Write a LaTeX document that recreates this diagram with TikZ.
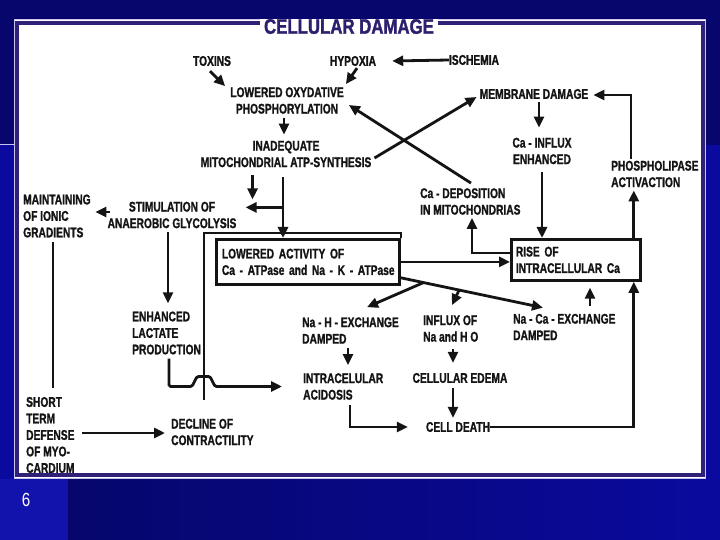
\documentclass[tikz,border=0pt]{standalone}
\usepackage{fontspec}
\usetikzlibrary{arrows.meta,calc}
\newfontfamily\diagfont{Liberation Sans Bold}[FakeStretch=0.73,FakeBold=1.2]
\newfontfamily\titlefont{Liberation Sans Bold}[FakeStretch=0.8,FakeBold=1.5]
\newfontfamily\pgfont{Liberation Sans}[FakeStretch=0.8]
\definecolor{bgblue}{RGB}{10,10,158}
\definecolor{bgdark}{RGB}{6,6,108}
\definecolor{stripblue}{RGB}{18,18,172}
\definecolor{panelpurple}{RGB}{48,32,120}
\definecolor{titlecol}{RGB}{45,30,110}
\definecolor{txt}{RGB}{20,20,20}
\definecolor{lightline}{RGB}{200,196,236}
\begin{document}
\begin{tikzpicture}[x=1pt,y=-1pt,
  lbl/.style={font=\diagfont\fontsize{14}{16.5}\selectfont,inner sep=0pt,text=txt},
  arr/.style={line width=2.8pt,draw=txt,-{Triangle[length=11pt,width=10pt]}},
  ln/.style={line width=2.3pt,draw=txt},
  boxnode/.style={lbl,draw=txt,line width=2.8pt,align=left,inner ysep=0pt}
]
\useasboundingbox (0,0) rectangle (720,540);
% background
\fill[bgblue] (0,0) rectangle (720,540);
\fill[bgdark] (0,0) rectangle (720,145);
\shade[left color=bgdark,right color=bgblue] (68,479) rectangle (720,540);
\fill[stripblue] (0,479) rectangle (68,540);
\draw[lightline,line width=1pt] (0,145) -- (14,145);
% panel
\fill[white] (14,19) rectangle (706,479);
\draw[lightline,line width=1pt] (14,19.5) rectangle (705.5,478.5);
\draw[panelpurple,line width=4pt] (16.5,23.5) rectangle (702.5,474.5);
\node[font=\titlefont\fontsize{21}{21}\selectfont,text=titlecol,fill=white,inner xsep=4pt,inner ysep=0pt] (title) at (349,26.5) {CELLULAR DAMAGE};
\node[font=\pgfont\fontsize{19}{19}\selectfont,text=white,inner sep=0pt] (pg) at (26,500) {6};

% nodes
\node[lbl] (toxins) at (212,61) {TOXINS};
\node[lbl] (hypoxia) at (353,61) {HYPOXIA};
\node[lbl] (ischemia) at (474,60) {ISCHEMIA};
\node[lbl,align=center] (lowox) at (287,100.5) {LOWERED OXYDATIVE\\PHOSPHORYLATION};
\node[lbl,align=center] (inadequate) at (286,154) {INADEQUATE\\MITOCHONDRIAL ATP-SYNTHESIS};
\node[lbl] (membrane) at (534,94) {MEMBRANE DAMAGE};
\node[lbl,align=center] (cainflux) at (542,151) {Ca - INFLUX\\ENHANCED};
\node[lbl,align=left,anchor=west] (phospho) at (611,174) {PHOSPHOLIPASE\\ACTIVACTION};
\node[lbl,align=left,anchor=west] (cadep) at (420,201.5) {Ca - DEPOSITION\\IN MITOCHONDRIAS};
\node[lbl,align=left,anchor=west] (maintain) at (23,216) {MAINTAINING\\OF IONIC\\GRADIENTS};
\node[lbl,align=center] (stim) at (172,215) {STIMULATION OF\\ANAEROBIC GLYCOLYSIS};
\node[boxnode,text width=172pt,inner xsep=5.5pt,minimum height=45pt,anchor=north west] (lowact) at (215,238) {\mbox{LOWERED ACTIVITY OF}\\\mbox{Ca - ATPase and Na - K - ATPase}};
\node[boxnode,text width=120pt,inner xsep=4.5pt,minimum height=41pt,anchor=north west] (rise) at (510,238) {\mbox{RISE OF}\\\mbox{INTRACELLULAR Ca}};
\node[lbl,align=left,anchor=west] (lactate) at (132,333) {ENHANCED\\LACTATE\\PRODUCTION};
\node[lbl,align=left,anchor=west] (nah) at (302,330.5) {Na - H - EXCHANGE\\DAMPED};
\node[lbl,align=left,anchor=west] (influx) at (423,328.5) {INFLUX OF\\Na and H O};
\node[lbl,align=left,anchor=west] (naca) at (513,327) {Na - Ca - EXCHANGE\\DAMPED};
\node[lbl,align=left,anchor=west] (acid) at (303,386.5) {INTRACELULAR\\ACIDOSIS};
\node[lbl] (edema) at (460,378) {CELLULAR EDEMA};
\node[lbl] (death) at (458,427) {CELL DEATH};
\node[lbl,align=left,anchor=west] (short) at (26,435) {SHORT\\TERM\\DEFENSE\\OF MYO-\\CARDIUM};
\node[lbl,align=left,anchor=west] (decline) at (171,432) {DECLINE OF\\CONTRACTILITY};

% helper coordinates
\coordinate (m0) at ([shift={(5,3)}]membrane.south);
\coordinate (m1) at ([shift={(0,-10)}]cainflux.north);
\coordinate (c0) at ([shift={(0,8)}]cainflux.south);
\coordinate (r0) at ([shift={(-8,0)}]rise.north east);
\coordinate (r1) at ([shift={(0,3)}]phospho.south west);
\coordinate (d1) at ([shift={(0,-8)}]lowact.south east);
\coordinate (d2) at ([shift={(30,-6)}]naca.north west);
\coordinate (n0) at ([shift={(46,4)}]nah.south west);
\coordinate (n1) at ([shift={(0,-8)}]acid.north west);
\coordinate (i0) at ([shift={(30,7)}]influx.south west);
\coordinate (i1) at ([shift={(0,-10)}]edema.north);
\coordinate (e0) at ([shift={(-7,5)}]edema.south);
\coordinate (e1) at ([shift={(0,-4)}]death.north);
\coordinate (v0) at ([shift={(-3,10)}]inadequate.south);
\coordinate (j1) at ([shift={(0,30)}]v0);
\coordinate (s0) at ([shift={(-4,4)}]stim.south);
\coordinate (s1) at ([shift={(0,-8)}]lactate.north west);
\coordinate (l0) at ([shift={(37,4)}]lactate.south west);
\coordinate (g0) at ([shift={(30,4.5)}]maintain.south west);
\coordinate (g1) at ([shift={(0,-9)}]short.north west);

% connectors
\draw[arr] (ischemia.west) -- ([shift={(16,0)}]hypoxia.east);
\draw[arr] ([shift={(-2,5)}]toxins.south) -- ([shift={(-5,-1)}]lowox.north west);
\draw[arr] ([shift={(4,2)}]hypoxia.south) -- ([shift={(2,-3)}]lowox.north east);
\draw[arr] ([shift={(-3,4)}]lowox.south) -- ([shift={(-2,-6)}]inadequate.north);
\draw[arr] ([shift={(3,4)}]inadequate.east) -- ([shift={(-3,3)}]membrane.west);
\draw[arr] ([shift={(51,-5)}]cadep.north west) -- ([shift={(5,4.5)}]lowox.east);
\draw[arr] ([shift={(20,-2)}]phospho.north west) |- ([shift={(5,1)}]membrane.east);
\draw[arr] (m0) -- (m0 |- m1);
\draw[arr] (c0) -- (c0 |- rise.north);
\draw[arr] (r0) -- (r0 |- r1);
\draw[arr] ([shift={(0,-7)}]rise.west) -| ([shift={(52,3)}]cadep.south west);
\draw[arr] (lowact.east) -- (lowact.east -| rise.west);
\draw[arr] (d1) -- (d2);
\draw[arr] ($(d1)!0.16!(d2)$) -- ([shift={(65,-10)}]nah.north west);
\draw[arr] ($(d1)!0.41!(d2)$) -- ([shift={(29,-10)}]influx.north west);
\draw[arr] ([shift={(77,-8)}]naca.north west) -- ([shift={(77,-26)}]naca.north west);
\draw[arr] (death.east) -| ([shift={(-8,0)}]rise.south east);
\draw[arr] (n0) -- (n0 |- n1);
\draw[arr] (i0) -- (i0 |- i1);
\draw[arr] (e0) -- (e0 |- e1);
\draw[arr] ([shift={(47,5)}]acid.south west) |- ([shift={(-18,0)}]death.west);
\draw[arr] (v0) -- (v0 |- lowact.north);
\draw[arr] (j1) -- ($(j1 -| stim.east)+(9,0)$);
\draw[arr] ([shift={(52,8)}]inadequate.south west) -- ([shift={(52,32)}]inadequate.south west);
\draw[arr] ([shift={(3,-3)}]stim.west) -- ([shift={(-12,-3)}]stim.west);
\draw[arr] (s0) -- (s0 |- s1);
\draw[arr,rounded corners=1.5pt] (l0) -- (l0 |- acid.west) -- ++(23,0) -- ++(5,-10) -- ++(13,0) -- ++(5,10) -- ([shift={(-21,0)}]acid.west);
\draw[ln] ([shift={(-11,162)}]lowact.north west) |- ([shift={(0,-5)}]lowact.north east) -- (lowact.north east);
\draw[ln] (g0) -- (g0 |- g1);
\draw[arr] ([shift={(56,-2)}]short.west) -- ([shift={(-6,1)}]decline.west);
\end{tikzpicture}
\end{document}
